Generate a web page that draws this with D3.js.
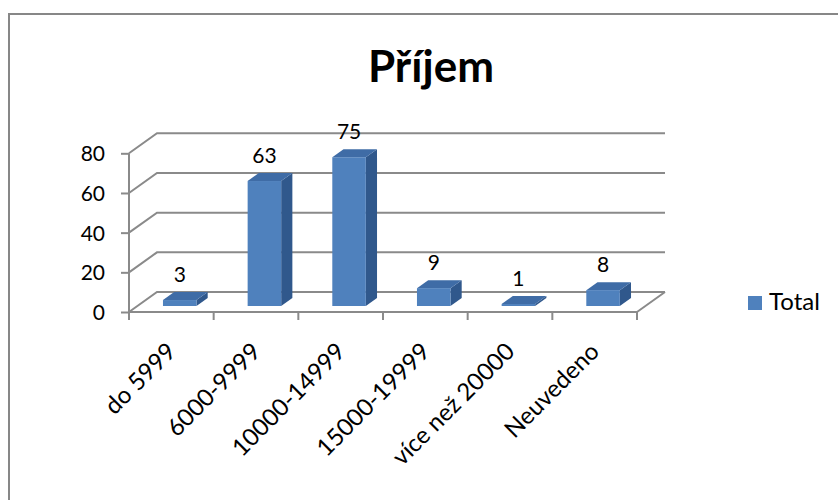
<!DOCTYPE html>
<html>
<head>
<meta charset="utf-8">
<script src="https://cdn.jsdelivr.net/npm/d3@7"></script>
<style>
  html, body { margin: 0; padding: 0; background: #fff; }
  svg { display: block; font-family: Lato, "Open Sans", sans-serif; }
</style>
</head>
<body>
<svg id="chart" width="838" height="500"></svg>
<script>
// Income brackets and counts
const categories = ["do 5999", "6000-9999", "10000-14999", "15000-19999", "více než 20000", "Neuvedeno"];
const totals = [3, 63, 75, 9, 1, 8];
const yTicks = [0, 20, 40, 60, 80];
const titleText = "Příjem";
const seriesName = "Total";

const svg = d3.select("#chart");

// Outer chart-area frame (runs off the right and bottom edges)
svg.append("rect")
  .attr("x", 9).attr("y", 14)
  .attr("width", 900).attr("height", 600)
  .attr("fill", "#fff")
  .attr("stroke", "#878787").attr("stroke-width", 2);

// Front plane of the 3D plot area
const front = { left: 129, right: 637, top: 153.3, bottom: 312 };
// Offset from front plane to back wall
const depth = { dx: 28, dy: -20 };

const x = d3.scaleBand().domain(categories).range([front.left, front.right]);
const y = d3.scaleLinear().domain([0, 80]).range([front.bottom, front.top]);

const gridColor = "#8a8a8a";
const g = svg.append("g");

// Gridlines: side-wall diagonal then along the back wall
g.selectAll("path.grid").data(yTicks).join("path")
  .attr("class", "grid")
  .attr("d", t => `M${front.left},${y(t)}L${front.left + depth.dx},${y(t) + depth.dy}H${front.right + depth.dx}`)
  .attr("fill", "none").attr("stroke", gridColor).attr("stroke-width", 2);

// Right edge of the floor
g.append("line")
  .attr("x1", front.right).attr("y1", y(0))
  .attr("x2", front.right + depth.dx).attr("y2", y(0) + depth.dy)
  .attr("stroke", gridColor).attr("stroke-width", 2);

// Value axis (front)
const yAxis = d3.axisLeft(y).tickValues(yTicks).tickSize(8).tickPadding(16).tickSizeOuter(0);
const ya = g.append("g").attr("transform", `translate(${front.left},0)`).call(yAxis);
ya.select(".domain").remove();
ya.selectAll(".tick line").attr("stroke", gridColor).attr("stroke-width", 2);
ya.selectAll(".tick text").attr("font-size", 21).attr("fill", "#000")
  .attr("font-family", "Lato, sans-serif").attr("dy", "0.36em");
g.append("line")
  .attr("x1", front.left).attr("x2", front.left)
  .attr("y1", y(80)).attr("y2", y(0) + 8)
  .attr("stroke", gridColor).attr("stroke-width", 2);

// Category axis (front)
g.append("line")
  .attr("x1", front.left).attr("x2", front.right)
  .attr("y1", y(0)).attr("y2", y(0))
  .attr("stroke", gridColor).attr("stroke-width", 2);
const boundaries = categories.map(c => x(c)).concat([x.range()[1]]);
g.selectAll("line.ctick").data(boundaries).join("line")
  .attr("class", "ctick")
  .attr("x1", d => d).attr("x2", d => d)
  .attr("y1", y(0)).attr("y2", y(0) + 8)
  .attr("stroke", gridColor).attr("stroke-width", 2);

// 3D columns: front face sits 30% into the depth, back face at 70%
const barFrac = 0.396;
const d0 = 0.3, d1 = 0.7;
const colFront = "#4f81bd", colTop = "#3f6ca6", colSide = "#30588c";

const bars = g.selectAll("g.bar").data(categories.map((c, i) => ({ c, v: totals[i] }))).join("g").attr("class", "bar");

bars.each(function (d) {
  const sel = d3.select(this);
  const cx = x(d.c) + x.bandwidth() / 2;
  const w = x.bandwidth() * barFrac;
  const ox = depth.dx * d0, oy = depth.dy * d0;
  const bx = depth.dx * (d1 - d0), by = depth.dy * (d1 - d0);
  const L = cx - w / 2 + ox, R = cx + w / 2 + ox;
  const T = y(d.v) + oy, B = y(0) + oy;
  // right side face
  sel.append("path")
    .attr("d", `M${R},${T}L${R + bx},${T + by}L${R + bx},${B + by}L${R},${B}Z`)
    .attr("fill", colSide);
  // top face
  sel.append("path")
    .attr("d", `M${L},${T}L${L + bx},${T + by}L${R + bx},${T + by}L${R},${T}Z`)
    .attr("fill", colTop);
  // front face
  sel.append("rect")
    .attr("x", L).attr("y", T).attr("width", R - L).attr("height", Math.max(0, B - T))
    .attr("fill", colFront);
  // value label above the column
  sel.append("text")
    .attr("x", cx + ox).attr("y", T + by - 10)
    .attr("text-anchor", "middle").attr("font-size", 21).attr("fill", "#000")
    .text(d.v);
});

// Rotated category labels
g.selectAll("text.cat").data(categories).join("text")
  .attr("class", "cat")
  .attr("text-anchor", "end")
  .attr("font-size", 24).attr("fill", "#000")
  .attr("transform", c => `translate(${x(c) + x.bandwidth() / 2 + 6},${y(0) + 41}) rotate(-45)`)
  .text(c => c);

// Title
svg.append("text")
  .attr("x", 431).attr("y", 82)
  .attr("text-anchor", "middle")
  .attr("font-size", 44).attr("font-weight", "bold").attr("fill", "#000")
  .text(titleText);

// Legend
const lg = svg.append("g").attr("transform", "translate(748,296)");
lg.append("rect").attr("width", 14).attr("height", 14).attr("fill", colFront);
lg.append("text").attr("x", 21).attr("y", 14).attr("font-size", 24).attr("fill", "#000").text(seriesName);
</script>
</body>
</html>
